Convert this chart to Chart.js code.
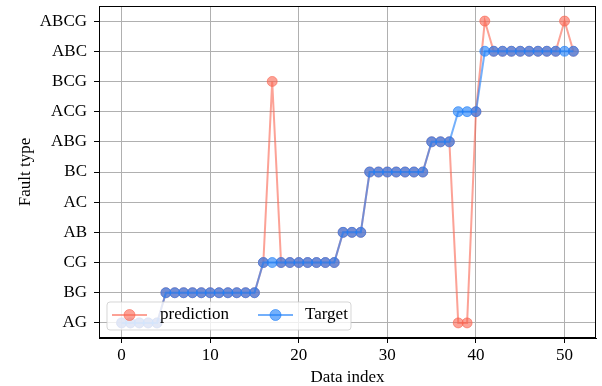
<!DOCTYPE html>
<html>
<head>
<meta charset="utf-8">
<script src="https://cdn.jsdelivr.net/npm/chart.js@4.4.1/dist/chart.umd.min.js"></script>
<style>
  html, body { margin: 0; padding: 0; background: #fff; }
  #wrap { width: 602px; height: 386px; }
</style>
</head>
<body>
<div id="wrap"><canvas id="chart" width="602" height="386"></canvas></div>
<script>
// Fault classes, bottom to top on the vertical axis
const faultTypes = ['AG', 'BG', 'CG', 'AB', 'AC', 'BC', 'ABG', 'ACG', 'BCG', 'ABC', 'ABCG'];

// Sample indices
const dataIndex = [
  0, 1, 2, 3, 4, 5, 6, 7, 8, 9,
  10, 11, 12, 13, 14, 15, 16, 17, 18, 19,
  20, 21, 22, 23, 24, 25, 26, 27, 28, 29,
  30, 31, 32, 33, 34, 35, 36, 37, 38, 39,
  40, 41, 42, 43, 44, 45, 46, 47, 48, 49,
  50, 51
];

// True fault type of each sample
const targetLabels = [
  'AG', 'AG', 'AG', 'AG', 'AG',
  'BG', 'BG', 'BG', 'BG', 'BG', 'BG', 'BG', 'BG', 'BG', 'BG', 'BG',
  'CG', 'CG', 'CG', 'CG', 'CG', 'CG', 'CG', 'CG', 'CG',
  'AB', 'AB', 'AB',
  'BC', 'BC', 'BC', 'BC', 'BC', 'BC', 'BC',
  'ABG', 'ABG', 'ABG',
  'ACG', 'ACG', 'ACG',
  'ABC', 'ABC', 'ABC', 'ABC', 'ABC', 'ABC', 'ABC', 'ABC', 'ABC', 'ABC', 'ABC'
];

// Fault type predicted by the classifier
const predictionLabels = [
  'AG', 'AG', 'AG', 'AG', 'AG',
  'BG', 'BG', 'BG', 'BG', 'BG', 'BG', 'BG', 'BG', 'BG', 'BG', 'BG',
  'CG', 'BCG', 'CG', 'CG', 'CG', 'CG', 'CG', 'CG', 'CG',
  'AB', 'AB', 'AB',
  'BC', 'BC', 'BC', 'BC', 'BC', 'BC', 'BC',
  'ABG', 'ABG', 'ABG',
  'AG', 'AG', 'ACG',
  'ABCG', 'ABC', 'ABC', 'ABC', 'ABC', 'ABC', 'ABC', 'ABC', 'ABC', 'ABCG', 'ABC'
];

const xTicks = [0, 10, 20, 30, 40, 50];

const FONT = 'Liberation Serif, Times New Roman, serif';
const PRED_COLOR = 'rgba(250, 100, 80, 0.6)';
const TARGET_COLOR = 'rgba(30, 128, 248, 0.62)';

const toPoints = labels => dataIndex.map((x, i) => ({ x: x, y: faultTypes.indexOf(labels[i]) }));

// Frame on all four sides plus the boxed legend in the lower-left corner
const framePlugin = {
  id: 'frameAndLegend',
  afterDraw(chart) {
    const { ctx, chartArea: a } = chart;
    ctx.save();
    ctx.strokeStyle = '#000';
    ctx.lineWidth = 1;
    ctx.strokeRect(Math.round(a.left) + 0.5, Math.round(a.top) + 0.5,
                   Math.round(a.right - a.left) - 1, Math.round(a.bottom - a.top) - 1);

    // legend box
    const bx = 107, by = 302, bw = 244, bh = 28, r = 3;
    ctx.beginPath();
    ctx.moveTo(bx + r, by);
    ctx.lineTo(bx + bw - r, by);
    ctx.quadraticCurveTo(bx + bw, by, bx + bw, by + r);
    ctx.lineTo(bx + bw, by + bh - r);
    ctx.quadraticCurveTo(bx + bw, by + bh, bx + bw - r, by + bh);
    ctx.lineTo(bx + r, by + bh);
    ctx.quadraticCurveTo(bx, by + bh, bx, by + bh - r);
    ctx.lineTo(bx, by + r);
    ctx.quadraticCurveTo(bx, by, bx + r, by);
    ctx.closePath();
    ctx.fillStyle = 'rgba(255,255,255,0.8)';
    ctx.fill();
    ctx.strokeStyle = 'rgba(204,204,204,0.8)';
    ctx.lineWidth = 1;
    ctx.stroke();

    const entries = chart.data.datasets.map(ds => ({ text: ds.label, color: ds.borderColor }));
    const slots = [{ x0: 112, x1: 147, tx: 160 }, { x0: 258, x1: 293, tx: 305 }];
    const ly = 315;
    entries.forEach((e, i) => {
      const s = slots[i];
      ctx.strokeStyle = e.color;
      ctx.lineWidth = 2;
      ctx.beginPath();
      ctx.moveTo(s.x0, ly);
      ctx.lineTo(s.x1, ly);
      ctx.stroke();
      ctx.beginPath();
      ctx.arc((s.x0 + s.x1) / 2, ly, 5.5, 0, Math.PI * 2);
      ctx.fillStyle = e.color;
      ctx.fill();
      ctx.lineWidth = 1;
      ctx.stroke();
      ctx.fillStyle = '#000';
      ctx.font = '17px ' + FONT;
      ctx.textAlign = 'left';
      ctx.textBaseline = 'middle';
      ctx.fillText(e.text, s.tx, ly);
    });
    ctx.restore();
  }
};

new Chart(document.getElementById('chart'), {
  type: 'line',
  data: {
    datasets: [
      {
        label: 'prediction',
        data: toPoints(predictionLabels),
        borderColor: PRED_COLOR,
        backgroundColor: PRED_COLOR,
        borderWidth: 2,
        pointRadius: 5,
        pointBorderWidth: 1,
        pointBackgroundColor: PRED_COLOR,
        pointBorderColor: PRED_COLOR,
        tension: 0,
        order: 2
      },
      {
        label: 'Target',
        data: toPoints(targetLabels),
        borderColor: TARGET_COLOR,
        backgroundColor: TARGET_COLOR,
        borderWidth: 2,
        pointRadius: 5,
        pointBorderWidth: 1,
        pointBackgroundColor: TARGET_COLOR,
        pointBorderColor: TARGET_COLOR,
        tension: 0,
        order: 1
      }
    ]
  },
  options: {
    responsive: false,
    animation: false,
    devicePixelRatio: 1,
    layout: { padding: { top: 6, right: 4, left: 0, bottom: 0 } },
    plugins: {
      legend: { display: false },
      tooltip: { enabled: false }
    },
    scales: {
      x: {
        type: 'linear',
        min: -2.55,
        max: 53.55,
        afterBuildTicks: s => { s.ticks = xTicks.map(v => ({ value: v })); },
        afterFit: s => { s.height = 48; s.paddingLeft = 0; s.paddingRight = 0; },
        ticks: {
          color: '#000',
          font: { family: FONT, size: 17 },
          padding: 2,
          autoSkip: false,
          maxRotation: 0,
          callback: v => String(v)
        },
        grid: { color: '#b0b0b0', lineWidth: 1, tickColor: '#000', tickLength: 5, drawTicks: true },
        border: { color: '#000', width: 1 },
        title: {
          display: true,
          text: 'Data index',
          color: '#000',
          font: { family: FONT, size: 17 },
          padding: { top: 0, bottom: -2 }
        }
      },
      y: {
        type: 'linear',
        min: -0.5,
        max: faultTypes.length - 0.5,
        afterBuildTicks: s => { s.ticks = faultTypes.map((_, i) => ({ value: i })); },
        afterFit: s => { s.width = 99; s.paddingTop = 0; s.paddingBottom = 0; },
        ticks: {
          color: '#000',
          font: { family: FONT, size: 17 },
          padding: 7,
          autoSkip: false,
          callback: v => faultTypes[v]
        },
        grid: { color: '#b0b0b0', lineWidth: 1, tickColor: '#000', tickLength: 5, drawTicks: true },
        border: { color: '#000', width: 1 },
        title: {
          display: true,
          text: 'Fault type',
          color: '#000',
          font: { family: FONT, size: 17 },
          padding: { top: 15, bottom: 0 }
        }
      }
    }
  },
  plugins: [framePlugin]
});
</script>
</body>
</html>
